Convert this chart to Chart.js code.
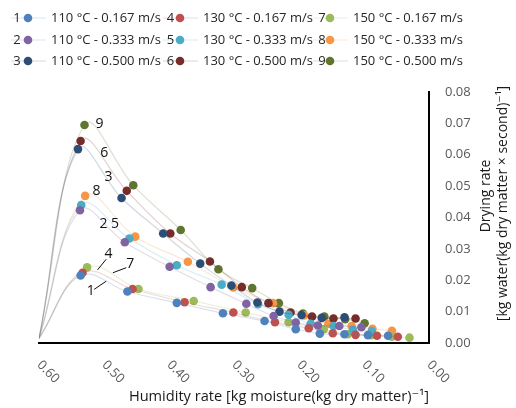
<!DOCTYPE html>
<html><head><meta charset="utf-8">
<script src="https://cdn.jsdelivr.net/npm/chart.js@4.4.1/dist/chart.umd.min.js"></script>
<style>html,body{margin:0;padding:0;background:#fff}#wrap{width:516px;height:408px;position:relative}</style>
</head><body><div id="wrap"><canvas id="c" width="516" height="408"></canvas></div>
<script>
// ---- data ----
const seriesNumbers = ['1','2','3','4','5','6','7','8','9'];
const seriesNames = ['110 °C - 0.167 m/s','110 °C - 0.333 m/s','110 °C - 0.500 m/s',
                     '130 °C - 0.167 m/s','130 °C - 0.333 m/s','130 °C - 0.500 m/s',
                     '150 °C - 0.167 m/s','150 °C - 0.333 m/s','150 °C - 0.500 m/s'];
const startHumidity = 0.60;
const startRate = 0.0015;
const humidity1 = [0.536,0.464,0.388,0.317,0.253,0.205,0.168,0.130,0.094,0.063];
const rate1     = [0.0215,0.0164,0.0128,0.0095,0.0070,0.0044,0.0030,0.0028,0.0025,0.0023];
const humidity2 = [0.537,0.468,0.399,0.336,0.281,0.239,0.205,0.171,0.138,0.104];
const rate2     = [0.0423,0.0321,0.0243,0.0178,0.0125,0.0086,0.0065,0.0056,0.0054,0.0050];
const humidity3 = [0.540,0.473,0.409,0.352,0.304,0.264,0.230,0.196,0.165,0.130];
const rate3     = [0.0618,0.0462,0.0349,0.0253,0.0183,0.0129,0.0100,0.0089,0.0080,0.0082];
const humidity4 = [0.533,0.456,0.376,0.301,0.237,0.185,0.148,0.113,0.080,0.048];
const rate4     = [0.0224,0.0172,0.0130,0.0097,0.0066,0.0047,0.0031,0.0026,0.0023,0.0020];
const humidity5 = [0.535,0.461,0.388,0.319,0.263,0.216,0.182,0.147,0.117,0.088];
const rate5     = [0.0440,0.0333,0.0248,0.0186,0.0124,0.0090,0.0061,0.0054,0.0042,0.0038];
const humidity6 = [0.536,0.465,0.398,0.337,0.288,0.247,0.213,0.180,0.147,0.113];
const rate6     = [0.0644,0.0485,0.0349,0.0260,0.0178,0.0127,0.0097,0.0084,0.0078,0.0078];
const humidity7 = [0.526,0.447,0.362,0.282,0.216,0.162,0.125,0.089,0.057,0.030];
const rate7     = [0.0241,0.0172,0.0134,0.0097,0.0066,0.0044,0.0028,0.0025,0.0020,0.0017];
const humidity8 = [0.529,0.452,0.371,0.301,0.240,0.192,0.155,0.119,0.087,0.057];
const rate8     = [0.0469,0.0339,0.0259,0.0177,0.0127,0.0088,0.0061,0.0054,0.0045,0.0039];
const humidity9 = [0.530,0.455,0.382,0.324,0.272,0.231,0.194,0.161,0.129,0.099];
const rate9     = [0.0695,0.0503,0.0360,0.0235,0.0175,0.0127,0.0094,0.0084,0.0076,0.0063];
const xTickValues = [0.60,0.50,0.40,0.30,0.20,0.10,0.00];
const xTickLabels = ['0.60','0.50','0.40','0.30','0.20','0.10','0.00'];
const xTitle = 'Humidity rate [kg moisture(kg dry matter)\u207B\u00B9]';
const yTitle = ['Drying rate','[kg water(kg dry matter \u00D7 second)\u207B\u00B9]'];
// curve labels placed in data units: [text, humidity, rate]
const curveLabels = [['9',0.507,0.0698],['6',0.4997,0.0607],['3',0.4931,0.0528],['8',0.5116,0.0485],
                     ['2',0.5008,0.0378],['5',0.4832,0.0378],['4',0.4931,0.0285],['7',0.4596,0.0251],['1',0.5202,0.0165]];
// leader lines in data units: [h1, r1, h2, r2]
const leaderLines = [[0.4966,0.0267,0.510,0.0233],[0.4657,0.0240,0.4863,0.0224],[0.5151,0.0171,0.4966,0.0197]];

// ---- style ----
const colors = ['#4F81BD','#8064A2','#2C4D75','#C0504D','#4BACC6','#772C2A','#9BBB59','#F79646','#5F7530'];
const FONT = '"Open Sans", "DejaVu Sans", sans-serif';
function rgba(hex, a){const n=parseInt(hex.slice(1),16);return `rgba(${n>>16&255},${n>>8&255},${n&255},${a})`;}

const hum = [humidity1,humidity2,humidity3,humidity4,humidity5,humidity6,humidity7,humidity8,humidity9];
const rat = [rate1,rate2,rate3,rate4,rate5,rate6,rate7,rate8,rate9];
const datasets = hum.map((h,i)=>({
  label: seriesNames[i],
  data: [{x:startHumidity,y:startRate}].concat(h.map((v,j)=>({x:v,y:rat[i][j]}))),
  borderColor: rgba(colors[i],0.22),
  borderWidth: 1.2,
  backgroundColor: colors[i],
  pointBackgroundColor: colors[i],
  pointBorderColor: colors[i],
  pointBorderWidth: 0,
  pointRadius: ctx => ctx.dataIndex===0 ? 0 : 4.3,
  tension: 0.4,
  showLine: true,
  fill: false
}));

const textPlugin = {
  id:'texts',
  afterDraw(chart){
    const ctx = chart.ctx, xs = chart.scales.x, ys = chart.scales.y, a = chart.chartArea;
    ctx.save();
    // x tick labels, rotated clockwise
    ctx.fillStyle = '#595959';
    ctx.font = '13px ' + FONT;
    ctx.textAlign = 'left'; ctx.textBaseline = 'middle';
    xTickValues.forEach((v,i)=>{
      ctx.save();
      ctx.translate(xs.getPixelForValue(v), a.bottom + 20);
      ctx.rotate(Math.PI/4);
      ctx.fillText(xTickLabels[i],0,0);
      ctx.restore();
    });
    // x title
    ctx.fillStyle = '#1a1a1a';
    ctx.font = '14.6px ' + FONT;
    ctx.textAlign = 'center';
    ctx.fillText(xTitle, 279, 397);
    // y title (reads bottom to top)
    ctx.font = '14px ' + FONT;
    ctx.save();
    ctx.translate(486, 196); ctx.rotate(-Math.PI/2);
    ctx.fillText(yTitle[0],0,0);
    ctx.restore();
    ctx.save();
    ctx.translate(503, 203.5); ctx.rotate(-Math.PI/2);
    ctx.fillText(yTitle[1],0,0);
    ctx.restore();
    // curve labels
    ctx.fillStyle = '#111';
    ctx.font = '14px ' + FONT;
    curveLabels.forEach(l=>{
      ctx.fillText(l[0], xs.getPixelForValue(l[1]), ys.getPixelForValue(l[2]));
    });
    ctx.strokeStyle = '#111'; ctx.lineWidth = 1;
    leaderLines.forEach(l=>{
      ctx.beginPath();
      ctx.moveTo(xs.getPixelForValue(l[0]), ys.getPixelForValue(l[1]));
      ctx.lineTo(xs.getPixelForValue(l[2]), ys.getPixelForValue(l[3]));
      ctx.stroke();
    });
    // legend
    const colX = [11,163,313], rowY = [18,40,61];
    ctx.font = '13px ' + FONT;
    chart.data.datasets.forEach((ds,i)=>{
      const c = Math.floor(i/3), r = i%3;
      const x0 = colX[c], y0 = rowY[r];
      ctx.strokeStyle = ds.borderColor; ctx.lineWidth = 1.2;
      ctx.beginPath(); ctx.moveTo(x0,y0); ctx.lineTo(x0+35,y0); ctx.stroke();
      ctx.fillStyle = colors[i];
      ctx.beginPath(); ctx.arc(x0+17,y0,4.3,0,Math.PI*2); ctx.fill();
      ctx.fillStyle = '#262626';
      ctx.textAlign = 'center';
      ctx.fillText(seriesNumbers[i], x0+6+(c*1.5), y0+0.5);
      ctx.textAlign = 'left';
      ctx.fillText(ds.label, x0+40, y0+0.5);
    });
    ctx.restore();
  }
};

new Chart(document.getElementById('c'), {
  type: 'scatter',
  data: { datasets },
  options: {
    responsive: false, animation: false, devicePixelRatio: 1,
    layout: { padding: { top: 92, left: 39, right: 0, bottom: 0 } },
    plugins: { legend: { display: false }, tooltip: { enabled: false } },
    scales: {
      x: {
        type: 'linear', reverse: true, min: 0, max: 0.6,
        grid: { display: false, drawTicks: false },
        border: { display: true, color: '#000', width: 2 },
        ticks: { display: false },
        afterFit: s => { s.height = 65; }
      },
      y: {
        type: 'linear', position: 'right', min: 0, max: 0.08,
        grid: { display: false, drawTicks: false },
        border: { display: true, color: '#000', width: 2 },
        ticks: { stepSize: 0.01, padding: 16, color: '#595959', font: { family: FONT, size: 13 },
                 callback: v => v.toFixed(2) },
        afterFit: s => { s.width = 87; }
      }
    }
  },
  plugins: [textPlugin]
});
</script></body></html>
